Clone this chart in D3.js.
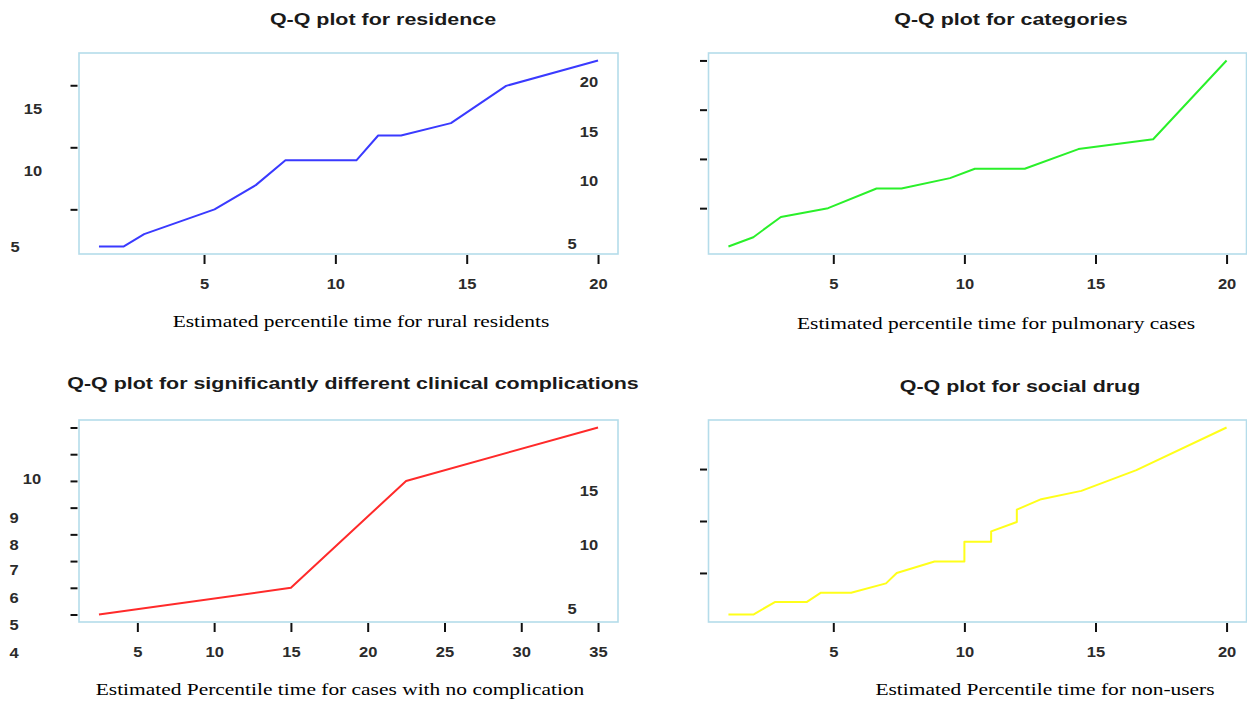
<!DOCTYPE html>
<html>
<head>
<meta charset="utf-8">
<script src="https://cdn.jsdelivr.net/npm/d3@7"></script>
<style>
  html, body { margin: 0; padding: 0; background: #fff; }
  svg { display: block; }
  .tick text { font-family: "Liberation Sans", Arial, sans-serif; font-size: 14px; font-weight: bold; fill: #2b2b2b; }
  .tick line { stroke: #111; stroke-width: 2px; }
</style>
</head>
<body>
<svg id="chart" width="1247" height="702"></svg>
<script>
// Quantile pairs for each comparison (x = reference group, y = compared group)
const residenceX = [1, 1.93, 2.72, 5.4, 6.97, 8.1, 10.8, 11.63, 12.5, 14.4, 16.5, 20];
const residenceY = [2, 2, 3, 5, 6.95, 8.95, 8.95, 10.95, 10.95, 11.95, 14.95, 17];

const categoriesX = [1, 1.95, 3, 4.8, 6.65, 7.6, 9.45, 10.4, 12.3, 14.35, 17.2, 20];
const categoriesY = [1.1, 2.05, 4.1, 5, 7, 7, 8.05, 9, 9, 11, 12, 20];

const complicationsX = [2.5, 15, 22.5, 35];
const complicationsY = [5, 6, 10, 12];

const drugX = [1, 1.95, 2.77, 3.98, 4.53, 5.68, 7.01, 7.42, 8.86, 10, 10, 11.02, 11.02, 12, 12, 12.93, 14.46, 16.56, 20];
const drugY = [1, 1, 2.2, 2.2, 3.1, 3.1, 4, 5, 6.1, 6.1, 8, 8, 9, 9.9, 11.1, 12.1, 12.9, 14.9, 19];

// Tick values
const ticks20 = [5, 10, 15, 20];
const ticks35 = [5, 10, 15, 20, 25, 30, 35];
const residenceYTicks = [5, 10, 15];
const categoriesYTicks = [5, 10, 15, 20];
const complicationsYTicks = [5, 6, 7, 8, 9, 10, 11, 12];
const drugYTicks = [5, 10, 15];

// Titles
const titles = [
  "Q-Q plot for residence",
  "Q-Q plot for categories",
  "Q-Q plot for significantly different clinical complications",
  "Q-Q plot for social drug"
];
const xTitles = [
  "Estimated percentile time for rural residents",
  "Estimated percentile time for pulmonary cases",
  "Estimated Percentile time for cases with no complication",
  "Estimated Percentile time for non-users"
];
const lineColors = ["#3a3aff", "#2af02a", "#ff2a2a", "#ffff1a"];

// Value labels printed away from their tick marks
const strayLabels = [
  { t: "15", x: 33, y: 109 }, { t: "10", x: 33, y: 171 }, { t: "5", x: 15, y: 247 },
  { t: "20", x: 589, y: 82 }, { t: "15", x: 589, y: 132 }, { t: "10", x: 589, y: 181 }, { t: "5", x: 572, y: 244 },
  { t: "10", x: 32, y: 479 }, { t: "9", x: 14, y: 518 }, { t: "8", x: 14, y: 545 }, { t: "7", x: 14, y: 570 },
  { t: "6", x: 14, y: 598 }, { t: "5", x: 14, y: 625 }, { t: "4", x: 14, y: 653 },
  { t: "15", x: 589, y: 491 }, { t: "10", x: 589, y: 545 }, { t: "5", x: 572, y: 609 }
];

// Panel layout
const panels = [
  { xs: residenceX, ys: residenceY, xt: ticks20, yt: residenceYTicks,
    box: { l: 79, r: 618, t: 53, b: 254 }, titleX: 383, titleY: 20, xTitleX: 361, xTitleY: 322 },
  { xs: categoriesX, ys: categoriesY, xt: ticks20, yt: categoriesYTicks,
    box: { l: 708.5, r: 1246.5, t: 53, b: 254 }, titleX: 1011, titleY: 20, xTitleX: 996, xTitleY: 324 },
  { xs: complicationsX, ys: complicationsY, xt: ticks35, yt: complicationsYTicks,
    box: { l: 79, r: 618, t: 420, b: 622 }, titleX: 353, titleY: 384, xTitleX: 340, xTitleY: 690 },
  { xs: drugX, ys: drugY, xt: ticks20, yt: drugYTicks,
    box: { l: 708.5, r: 1246.5, t: 420, b: 622 }, titleX: 1020, titleY: 387, xTitleX: 1045, xTitleY: 690 }
];

// Horizontal stretch of the lettering
const titleStretch = 1.34;
const axisTitleStretch = 1.34;
const digitStretch = 1.18;

const svg = d3.select("#chart");

// Domain padded by 4% on each side
function padded(vals) {
  const [lo, hi] = d3.extent(vals);
  const p = (hi - lo) * 0.04;
  return [lo - p, hi + p];
}

panels.forEach((p, i) => {
  const g = svg.append("g");
  const x = d3.scaleLinear().domain(padded(p.xs)).range([p.box.l, p.box.r]);
  const y = d3.scaleLinear().domain(padded(p.ys)).range([p.box.b, p.box.t]);

  // plot frame
  g.append("rect")
    .attr("x", p.box.l).attr("y", p.box.t)
    .attr("width", p.box.r - p.box.l).attr("height", p.box.b - p.box.t)
    .attr("fill", "none").attr("stroke", "#b5dcea").attr("stroke-width", 1.6);

  // x axis
  const xa = g.append("g")
    .attr("transform", `translate(0,${p.box.b + 1})`)
    .call(d3.axisBottom(x).tickValues(p.xt).tickSize(9).tickPadding(15).tickFormat(d3.format("d")));
  xa.select(".domain").remove();
  xa.selectAll(".tick text").attr("transform", `scale(${digitStretch},1)`);

  // y axis: tick marks only
  const ya = g.append("g")
    .attr("transform", `translate(${p.box.l - 1.5},0)`)
    .call(d3.axisLeft(y).tickValues(p.yt).tickSize(7).tickFormat(() => ""));
  ya.select(".domain").remove();

  // quantile line
  const pts = p.xs.map((v, k) => [v, p.ys[k]]);
  g.append("path")
    .datum(pts)
    .attr("fill", "none")
    .attr("stroke", lineColors[i])
    .attr("stroke-width", 2)
    .attr("stroke-linejoin", "round")
    .attr("d", d3.line().x(d => x(d[0])).y(d => y(d[1])));

  // title
  g.append("text")
    .attr("transform", `translate(${p.titleX},${p.titleY}) scale(${titleStretch},1)`)
    .attr("text-anchor", "middle").attr("dominant-baseline", "central")
    .attr("font-family", "'Liberation Sans', Arial, sans-serif")
    .attr("font-weight", "bold").attr("font-size", 16).attr("fill", "#1a1a1a")
    .text(titles[i]);

  // x axis title
  g.append("text")
    .attr("transform", `translate(${p.xTitleX},${p.xTitleY}) scale(${axisTitleStretch},1)`)
    .attr("text-anchor", "middle").attr("dominant-baseline", "central")
    .attr("font-family", "'Liberation Serif', 'Times New Roman', serif")
    .attr("font-size", 16).attr("fill", "#000")
    .text(xTitles[i]);
});

svg.append("g").selectAll("text")
  .data(strayLabels)
  .join("text")
  .attr("transform", d => `translate(${d.x},${d.y}) scale(${digitStretch},1)`)
  .attr("text-anchor", "middle").attr("dominant-baseline", "central")
  .attr("font-family", "'Liberation Sans', Arial, sans-serif")
  .attr("font-weight", "bold")
  .attr("font-size", 14).attr("fill", "#2b2b2b")
  .text(d => d.t);
</script>
</body>
</html>
